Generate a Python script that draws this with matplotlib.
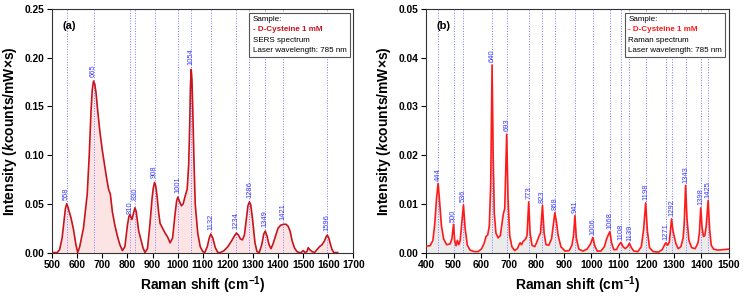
import numpy as np
import matplotlib
matplotlib.use("Agg")
import matplotlib.pyplot as plt
from matplotlib.offsetbox import TextArea, VPacker, AnchoredOffsetbox
from matplotlib.ticker import MultipleLocator

plt.rcParams['font.family'] = ['Liberation Sans', 'DejaVu Sans']
plt.rcParams['mathtext.fontset'] = 'custom'
plt.rcParams['mathtext.rm'] = 'Liberation Sans:bold'
plt.rcParams['mathtext.it'] = 'Liberation Sans:italic:bold'
plt.rcParams['mathtext.bf'] = 'Liberation Sans:bold'

# (a) SERS spectrum
sers_x = [500, 520, 530, 540, 548, 553, 558, 563, 568, 575, 585, 595, 602, 610, 625, 640, 648,
          655, 660, 665, 670, 675, 680, 690, 700, 710, 718, 725, 732, 740, 750, 760, 770, 780,
          790, 800, 806, 810, 818, 826, 830, 835, 840, 845, 855, 862, 870, 880, 890, 898, 903,
          908, 913, 918, 924, 930, 940, 950, 960, 970, 980, 990, 996, 1001, 1008, 1015, 1022,
          1030, 1038, 1044, 1048, 1051, 1054, 1057, 1060, 1065, 1070, 1080, 1090, 1100, 1108, 1118,
          1126, 1132, 1140, 1150, 1160, 1170, 1185, 1200, 1215, 1226, 1234, 1242, 1250, 1258, 1266,
          1274, 1280, 1286, 1291, 1298, 1308, 1316, 1325, 1335, 1343, 1349, 1356, 1364, 1372, 1380,
          1390, 1400, 1410, 1421, 1432, 1440, 1448, 1456, 1465, 1475, 1485, 1492, 1500, 1508, 1515,
          1520, 1526, 1535, 1545, 1555, 1565, 1575, 1585, 1591, 1596, 1602, 1608, 1615, 1622, 1630,
          1637]
sers_y = [0.000, 0.000, 0.003, 0.015, 0.033, 0.045, 0.050, 0.047, 0.042, 0.036, 0.024, 0.008,
          0.000, 0.006, 0.025, 0.060, 0.100,
          0.145, 0.167, 0.176, 0.173, 0.164, 0.150, 0.125, 0.105, 0.088, 0.075, 0.065, 0.060, 0.042,
          0.028, 0.017, 0.008, 0.002,
          0.006, 0.028, 0.037, 0.039, 0.034, 0.042, 0.046, 0.042, 0.032, 0.022, 0.012, 0.005, 0.000,
          0.004, 0.030, 0.055, 0.066,
          0.072, 0.068, 0.058, 0.042, 0.030, 0.025, 0.020, 0.016, 0.010, 0.015, 0.040, 0.053, 0.057,
          0.052, 0.048, 0.050,
          0.058, 0.065, 0.090, 0.130, 0.170, 0.188, 0.178, 0.150, 0.095, 0.050, 0.020, 0.006, 0.001,
          0.000, 0.006,
          0.015, 0.019, 0.015, 0.005, 0.000, 0.000, 0.002, 0.006, 0.012, 0.017, 0.020, 0.018, 0.014,
          0.013, 0.018,
          0.035, 0.048, 0.052, 0.049, 0.035, 0.010, 0.001, 0.000, 0.008, 0.019, 0.022, 0.017, 0.008,
          0.004, 0.009,
          0.017, 0.025, 0.028, 0.029, 0.029, 0.027, 0.022, 0.012, 0.005, 0.001, 0.000, 0.000, 0.002,
          0.000, 0.001,
          0.005, 0.003, 0.001, 0.000, 0.003, 0.006, 0.008, 0.012, 0.016, 0.018, 0.015, 0.009, 0.003,
          0.000, 0.000,
          0.000]
sers_peaks = [558, 665, 810, 830, 908, 1001, 1054, 1132, 1234, 1286, 1349, 1421, 1596]
sers_nudge = {810: 0.5, 830: 5.5}

# (b) Raman spectrum
raman_x = [400, 415, 425, 432, 438, 444, 450, 456, 464, 475, 488, 494, 500, 504, 509, 514, 519, 524,
           529, 536, 542, 550, 560, 575, 590, 602, 612, 618, 624, 630, 635, 640, 644, 648, 654, 662,
           670, 676, 681, 686, 693, 698, 704, 712, 722, 732, 738, 742, 747, 752, 757, 762, 767, 773,
           778, 785, 795, 803, 810, 816, 823, 829, 836, 846, 856, 862, 868, 874, 880, 890, 905, 920,
           930, 936, 941, 946, 955, 970, 985, 998, 1006, 1013, 1022, 1035, 1048, 1056, 1062, 1068,
           1074, 1082, 1092, 1100, 1108, 1116, 1124, 1132, 1139, 1146, 1155, 1170, 1182, 1190, 1198,
           1204, 1212, 1225, 1245, 1258, 1266, 1271, 1278, 1284, 1288, 1292, 1297, 1302, 1308, 1316,
           1326, 1334, 1338, 1343, 1348, 1355, 1365, 1378, 1388, 1393, 1398, 1403, 1408, 1413, 1418,
           1425, 1430, 1436, 1445, 1460, 1480, 1500]
raman_y = [0.0013, 0.0014, 0.0025, 0.0060, 0.0110, 0.0142, 0.0100, 0.0055, 0.0028, 0.0016, 0.0018,
           0.0028, 0.0058, 0.0025, 0.0014, 0.0025, 0.0016, 0.0024, 0.0055, 0.0098, 0.0050, 0.0015,
           0.0005, 0.0002, 0.0002, 0.0008, 0.0020, 0.0033, 0.0036, 0.0055, 0.0140, 0.0385, 0.0200,
           0.0080, 0.0040, 0.0030, 0.0035, 0.0060, 0.0080, 0.0090, 0.0243, 0.0110, 0.0035, 0.0012,
           0.0004, 0.0008, 0.0016, 0.0020, 0.0016, 0.0022, 0.0025, 0.0028, 0.0035, 0.0104, 0.0040,
           0.0015, 0.0012, 0.0022, 0.0033, 0.0040, 0.0097, 0.0040, 0.0016, 0.0015, 0.0028, 0.0055,
           0.0082, 0.0062, 0.0035, 0.0012, 0.0003, 0.0004, 0.0015, 0.0035, 0.0076, 0.0030, 0.0007,
           0.0003, 0.0007, 0.0018, 0.0031, 0.0014, 0.0003, 0.0003, 0.0012, 0.0028, 0.0036, 0.0043,
           0.0020, 0.0006, 0.0006, 0.0015, 0.0021, 0.0012, 0.0008, 0.0012, 0.0019, 0.0010, 0.0003,
           0.0002, 0.0012, 0.0045, 0.0102, 0.0045, 0.0010, 0.0002, 0.0001, 0.0006, 0.0015, 0.0020,
           0.0015, 0.0022, 0.0045, 0.0069, 0.0045, 0.0032, 0.0018, 0.0008, 0.0012, 0.0030, 0.0060,
           0.0138, 0.0070, 0.0025, 0.0010, 0.0008, 0.0020, 0.0040, 0.0092, 0.0050, 0.0033, 0.0035,
           0.0055, 0.0107, 0.0050, 0.0015, 0.0007, 0.0005, 0.0006, 0.0007]
raman_peaks = [444, 500, 536, 640, 693, 773, 823, 868, 941, 1006, 1068, 1108, 1139, 1198, 1271,
               1292, 1343, 1398, 1425]
raman_nudge = {}


def draw_panel(ax, x, y, peaks, nudge, gap, line_c, fill_c, tag, kind, xlim, xstep, ylim, ystep):
    ax.fill_between(x, y, 0, color=fill_c, lw=0)
    ax.plot(x, y, color=line_c, lw=1.2, zorder=3)
    for p in peaks:
        ax.axvline(p, color='#7a7aff', ls=':', lw=0.7, zorder=1)
        py = max(np.interp([p - 3, p, p + 3], x, y))
        ax.annotate(str(p), (p, py), xytext=(0, nudge.get(p, gap)), textcoords='offset points',
                    rotation=90, ha='center', va='bottom', fontsize=5.4, color='#3a3aff', zorder=4)
    ax.set_xlim(*xlim)
    ax.set_ylim(*ylim)
    ax.xaxis.set_major_locator(MultipleLocator(xstep))
    ax.yaxis.set_major_locator(MultipleLocator(ystep))
    ax.yaxis.set_major_formatter(plt.FormatStrFormatter('%.2f'))
    ax.tick_params(axis='both', which='major', direction='out', length=3.5, width=0.8,
                   labelsize=7.4, pad=2)
    for lab in ax.get_xticklabels() + ax.get_yticklabels():
        lab.set_fontweight('bold')
    for s in ax.spines.values():
        s.set_linewidth(0.8)
        s.set_color('#333333')
    ax.set_xlabel('Raman shift (cm$^{-1}$)', fontsize=10, fontweight='bold', labelpad=3)
    ax.set_ylabel('Intensity ($\\mathit{k}$counts/mW×s)', fontsize=10, fontweight='bold', labelpad=4)
    ax.text(0.035, 0.92, tag, transform=ax.transAxes, fontsize=8, fontweight='bold')

    rows = [TextArea('Sample:', textprops=dict(fontsize=5.8, color='black')),
            TextArea('- D-Cysteine 1 mM', textprops=dict(fontsize=5.8, color=line_c, fontweight='bold')),
            TextArea(kind, textprops=dict(fontsize=5.8, color='black')),
            TextArea('Laser wavelength: 785 nm', textprops=dict(fontsize=5.8, color='black'))]
    box = VPacker(children=rows, align='left', pad=0, sep=2.4)
    anc = AnchoredOffsetbox(loc='upper right', child=box, pad=0.25, borderpad=0.25, frameon=True)
    anc.patch.set_edgecolor('#555555')
    anc.patch.set_linewidth(0.8)
    ax.add_artist(anc)


fig = plt.figure(figsize=(7.44, 3.01), dpi=100)
ax1 = fig.add_axes([0.070, 0.161, 0.405, 0.809])
ax2 = fig.add_axes([0.5726, 0.161, 0.407, 0.809])

draw_panel(ax1, sers_x, sers_y, sers_peaks, sers_nudge, 3, '#c8141c', '#fce4e4', '(a)',
           'SERS spectrum', (500, 1700), 100, (0, 0.25), 0.05)
draw_panel(ax2, raman_x, raman_y, raman_peaks, raman_nudge, 2, '#ff1a1a', '#ebebeb', '(b)',
           'Raman spectrum', (400, 1500), 100, (0, 0.05), 0.01)

fig.savefig('out.png', dpi=100)
